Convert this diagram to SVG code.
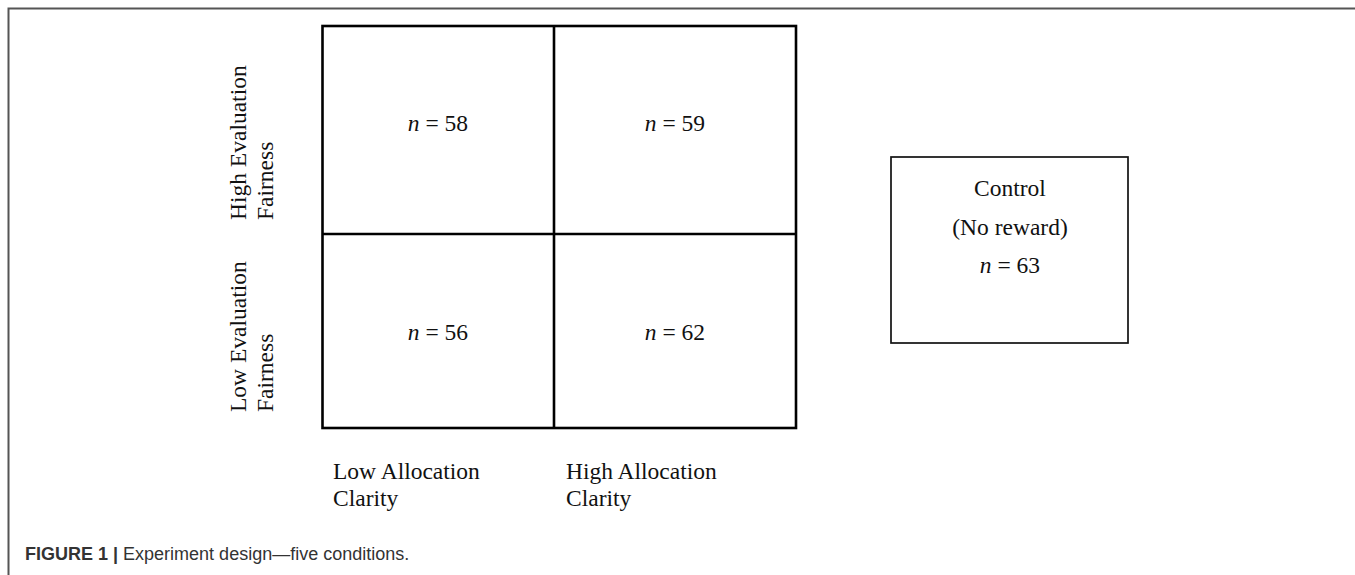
<svg xmlns="http://www.w3.org/2000/svg" width="1355" height="575" viewBox="0 0 1355 575">
<style>
.t{font-family:"Liberation Serif","Times New Roman",serif;font-size:23.5px;fill:#111}
.it{font-style:italic}
.grid{fill:none;stroke:#000;stroke-width:2.6}
.ctrl{fill:none;stroke:#111;stroke-width:1.7}
.frame{stroke:#555;stroke-width:2;fill:none}
.cap{font-family:"Liberation Sans",Arial,sans-serif;font-size:18px;fill:#333}
</style>
<rect width="1355" height="575" fill="#fff"/>
<g id="frame">
<path class="frame" d="M8.5,575 V8.5 H1355"/>
</g>
<g id="connectors">
<line class="grid" x1="554" y1="26" x2="554" y2="428"/>
<line class="grid" x1="322.5" y1="234" x2="796" y2="234"/>
</g>
<g id="grid">
<rect class="grid" x="322.5" y="26" width="473.5" height="402"/>
</g>
<g id="cell-hl">
<text class="t" x="438" y="131" text-anchor="middle"><tspan class="it">n</tspan> = 58</text>
</g>
<g id="cell-hh">
<text class="t" x="675" y="131" text-anchor="middle"><tspan class="it">n</tspan> = 59</text>
</g>
<g id="cell-ll">
<text class="t" x="438" y="340" text-anchor="middle"><tspan class="it">n</tspan> = 56</text>
</g>
<g id="cell-lh">
<text class="t" x="675" y="340" text-anchor="middle"><tspan class="it">n</tspan> = 62</text>
</g>
<g id="label-high-fairness">
<text class="t" transform="translate(246,220) rotate(-90)"><tspan x="0" y="0">High Evaluation</tspan><tspan x="0" y="27">Fairness</tspan></text>
</g>
<g id="label-low-fairness">
<text class="t" transform="translate(246,412) rotate(-90)"><tspan x="0" y="0">Low Evaluation</tspan><tspan x="0" y="27">Fairness</tspan></text>
</g>
<g id="label-low-clarity">
<text class="t" x="333" y="479">Low Allocation<tspan x="333" y="506">Clarity</tspan></text>
</g>
<g id="label-high-clarity">
<text class="t" x="566" y="479">High Allocation<tspan x="566" y="506">Clarity</tspan></text>
</g>
<g id="control">
<rect class="ctrl" x="891" y="157" width="237" height="186"/>
<text class="t" x="1010" y="196" text-anchor="middle">Control</text>
<text class="t" x="1010" y="235" text-anchor="middle">(No reward)</text>
<text class="t" x="1010" y="273" text-anchor="middle"><tspan class="it">n</tspan> = 63</text>
</g>
<g id="caption">
<text class="cap" x="25" y="560"><tspan font-weight="bold">FIGURE 1</tspan> <tspan font-weight="bold">|</tspan> Experiment design—five conditions.</text>
</g>
</svg>
